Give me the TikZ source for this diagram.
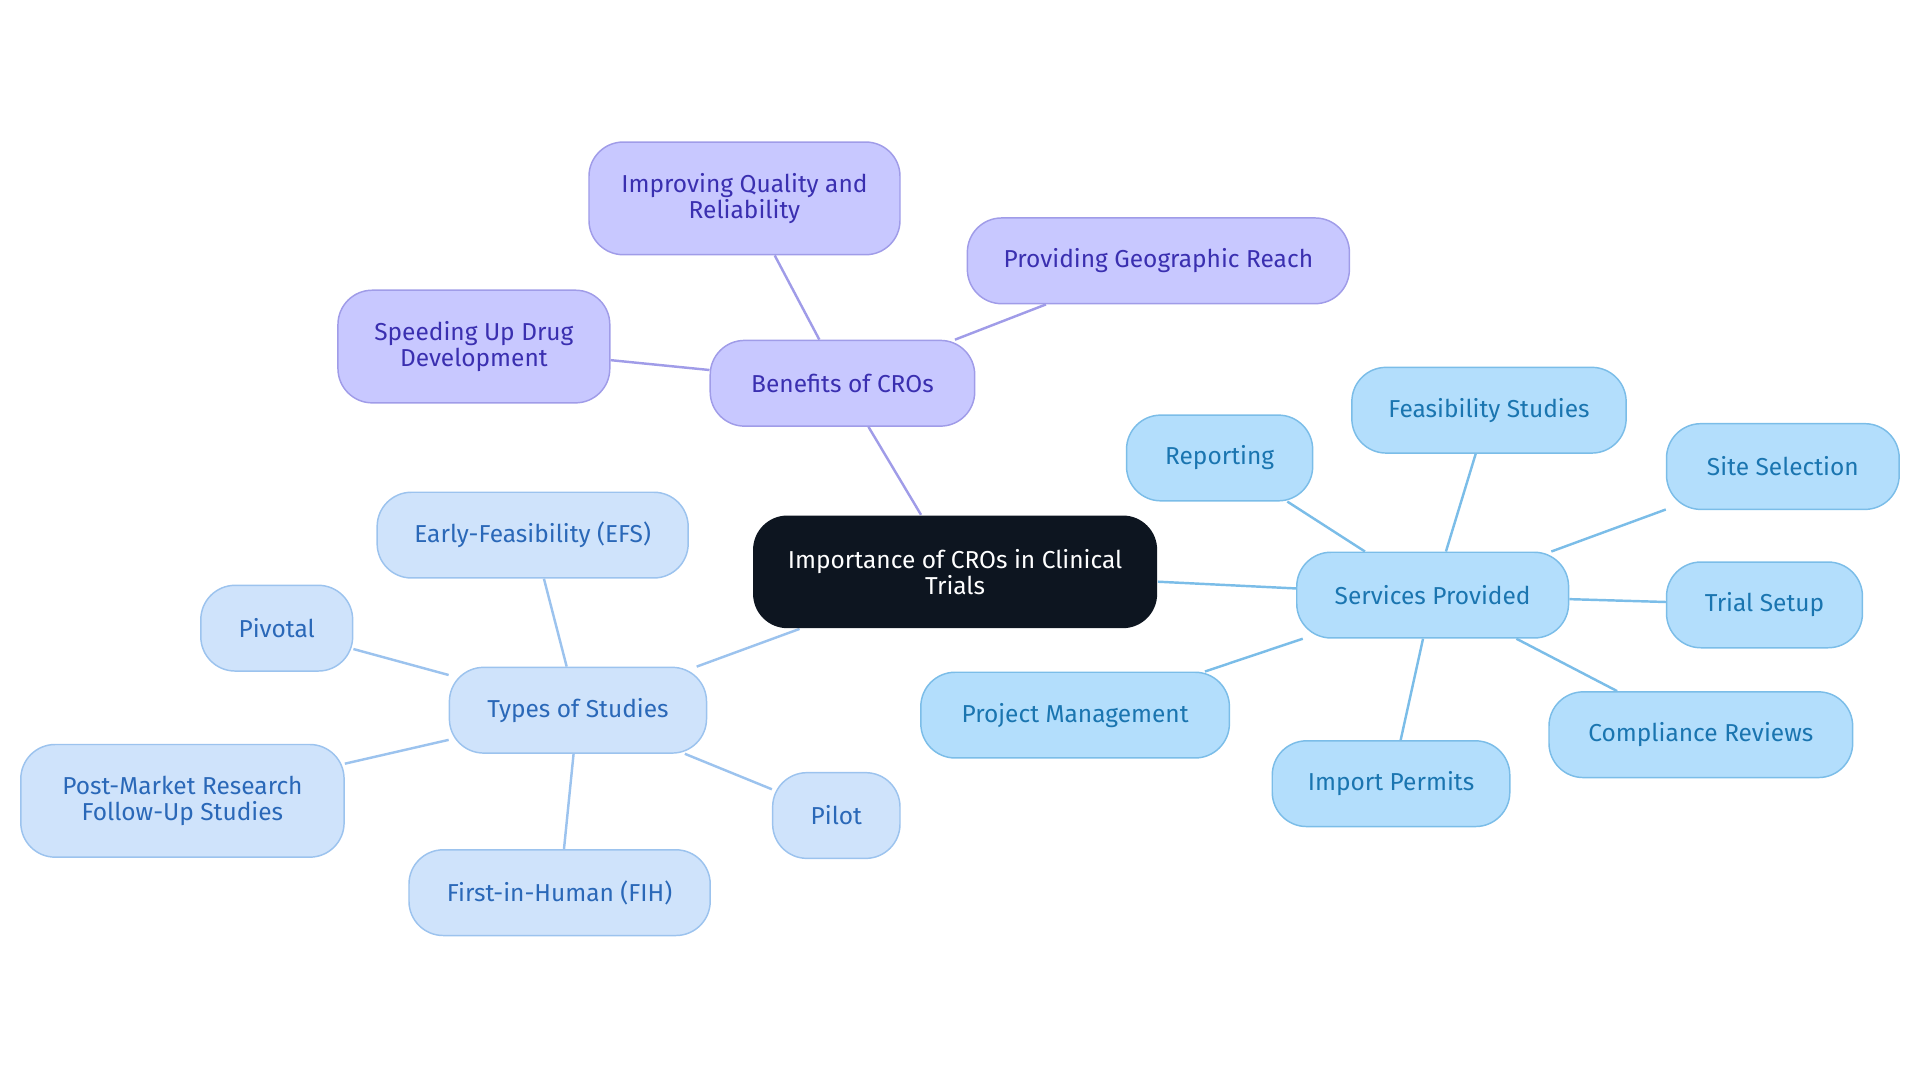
\documentclass[tikz,border=0pt]{standalone}
\usepackage{fontspec}
\setmainfont{Fira Sans}
\usetikzlibrary{backgrounds}
\definecolor{rootfill}{HTML}{0D1520}
\definecolor{bfill}{HTML}{C8C8FF}\definecolor{bdraw}{HTML}{A09CE8}\definecolor{btext}{HTML}{3A2FB0}
\definecolor{tfill}{HTML}{CFE3FB}\definecolor{tdraw}{HTML}{9CC3EE}\definecolor{ttext}{HTML}{2A68B8}
\definecolor{sfill}{HTML}{B3DEFC}\definecolor{sdraw}{HTML}{7BBDE8}\definecolor{stext}{HTML}{1A75B0}
\tikzset{box/.style={rectangle, rounded corners=14pt, align=center, font=\fontsize{10}{10.5}\selectfont,
        line width=0.6pt, inner sep=0pt, minimum height=35pt},
        bbox/.style={box, fill=bfill, draw=bdraw, text=btext},
        tbox/.style={box, fill=tfill, draw=tdraw, text=ttext},
        sbox/.style={box, fill=sfill, draw=sdraw, text=stext},
        tall/.style={minimum height=46pt},
        bedge/.style={draw=bdraw, line width=1pt},
        tedge/.style={draw=tdraw, line width=1pt},
        sedge/.style={draw=sdraw, line width=1pt}
        }

\begin{document}
\begin{tikzpicture}[x=0.5pt,y=-0.5pt]
\useasboundingbox (0,0) rectangle (1568,884);

\node[box, tall, fill=rootfill, text=white, minimum width=165pt] (root) at (780,467) {Importance of CROs in Clinical\\Trials};

% benefits
\node[bbox, minimum width=108pt] (ben) at (688,313) {Benefits of CROs};
\node[bbox, tall, minimum width=127pt] (qual) at (608,162) {Improving Quality and\\Reliability};
\node[bbox, minimum width=156pt] (geo) at (946,213) {Providing Geographic Reach};
\node[bbox, tall, minimum width=111pt] (speed) at (387,283) {Speeding Up Drug\\Development};

% types
\node[tbox, minimum width=105pt] (types) at (472,580) {Types of Studies};
\node[tbox, minimum width=127pt] (efs) at (435,437) {Early-Feasibility (EFS)};
\node[tbox, minimum width=62pt] (piv) at (226,513) {Pivotal};
\node[tbox, tall, minimum width=132pt] (post) at (149,654) {Post-Market Research\\Follow-Up Studies};
\node[tbox, minimum width=123pt] (fih) at (457,729) {First-in-Human (FIH)};
\node[tbox, minimum width=52pt] (pilot) at (683,666) {Pilot};

% services
\node[sbox, minimum width=111pt] (serv) at (1170,486) {Services Provided};
\node[sbox, minimum width=76pt] (rep) at (996,374) {Reporting};
\node[sbox, minimum width=112pt] (feas) at (1216,335) {Feasibility Studies};
\node[sbox, minimum width=95pt] (site) at (1456,381) {Site Selection};
\node[sbox, minimum width=80pt] (trial) at (1441,494) {Trial Setup};
\node[sbox, minimum width=124pt] (comp) at (1389,600) {Compliance Reviews};
\node[sbox, minimum width=97pt] (imp) at (1136,640) {Import Permits};
\node[sbox, minimum width=126pt] (proj) at (878,584) {Project Management};

\begin{scope}[on background layer]
\draw[bedge] (root) -- (ben);
\foreach \n in {qual,geo,speed} \draw[bedge] (ben) -- (\n);
\draw[tedge] (root) -- (types);
\foreach \n in {efs,piv,post,fih,pilot} \draw[tedge] (types) -- (\n);
\draw[sedge] (root) -- (serv);
\foreach \n in {rep,feas,site,trial,comp,imp,proj} \draw[sedge] (serv) -- (\n);
\end{scope}
\end{tikzpicture}
\end{document}
